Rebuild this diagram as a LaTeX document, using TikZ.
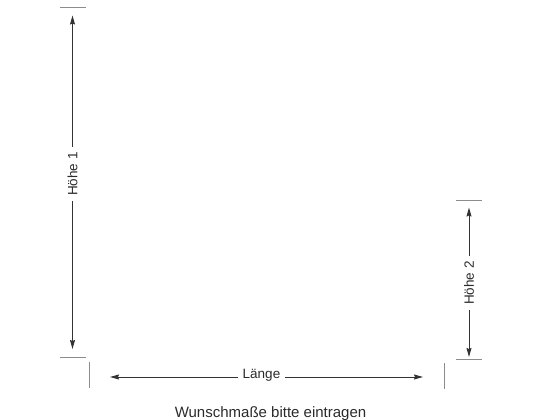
\documentclass[tikz,border=0pt]{standalone}
\usepackage{fontspec}
\setmainfont{Liberation Sans}
\usetikzlibrary{arrows.meta}
\definecolor{dimline}{HTML}{333333}
\definecolor{tickline}{HTML}{8C8C8C}
\definecolor{txt}{HTML}{2A2A2A}
\tikzset{
  dimarrow/.style={draw=dimline, line width=1pt, -{Stealth[length=9pt,width=5pt,inset=1pt]}},
  tickmark/.style={draw=tickline, line width=1pt},
  dimlabel/.style={text=txt, font=\fontsize{13.5}{15}\selectfont, inner xsep=5pt, inner ysep=3pt},
  caption/.style={text=txt, font=\fontsize{15}{18}\selectfont, inner sep=0pt}
}
\begin{document}
\begin{tikzpicture}[x=1pt,y=-1pt]
\useasboundingbox (0,0) rectangle (560,420);
% Höhe 1
\coordinate (h1ta) at (60,7.5); \coordinate (h1tb) at (86,7.5);
\coordinate (h1ba) at (60,357.5); \coordinate (h1bb) at (86,357.5);
\coordinate (h1top) at (72.5,15.5); \coordinate (h1bot) at (72.5,349);
\draw[tickmark] (h1ta) -- (h1tb);
\draw[tickmark] (h1ba) -- (h1bb);
\node[dimlabel, rotate=90] (h1) at (72.5,174) {Höhe 1};
\draw[dimarrow] (h1.east) -- (h1top);
\draw[dimarrow] (h1.west) -- (h1bot);
% Höhe 2
\coordinate (h2ta) at (456,200.5); \coordinate (h2tb) at (482,200.5);
\coordinate (h2ba) at (456,359.5); \coordinate (h2bb) at (482,359.5);
\coordinate (h2top) at (469,207.5); \coordinate (h2bot) at (469,357);
\draw[tickmark] (h2ta) -- (h2tb);
\draw[tickmark] (h2ba) -- (h2bb);
\node[dimlabel, rotate=90] (h2) at (469,283) {Höhe 2};
\draw[dimarrow] (h2.east) -- (h2top);
\draw[dimarrow] (h2.west) -- (h2bot);
% Länge
\coordinate (lta) at (89.5,362); \coordinate (ltb) at (89.5,388);
\coordinate (rta) at (444.5,363); \coordinate (rtb) at (444.5,389);
\coordinate (lleft) at (110,377); \coordinate (lright) at (423,377);
\draw[tickmark] (lta) -- (ltb);
\draw[tickmark] (rta) -- (rtb);
\node[dimlabel] (lg) at (261.5,375) {Länge};
\draw[dimarrow] (lg.west |- lleft) -- (lleft);
\draw[dimarrow] (lg.east |- lright) -- (lright);
% caption
\node[caption, anchor=base] (cap) at (270.5,417) {Wunschmaße bitte eintragen};
\end{tikzpicture}
\end{document}
